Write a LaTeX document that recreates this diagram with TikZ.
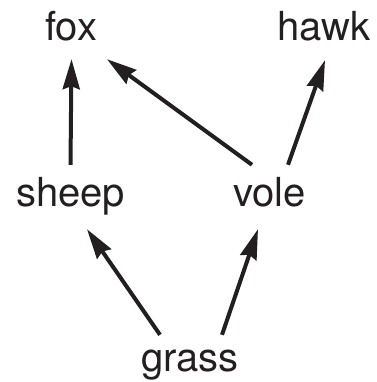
\documentclass[tikz,border=0pt]{standalone}
\usepackage{fontspec}
\setmainfont{TeX Gyre Heros}
\usepackage{tikz}
\usetikzlibrary{arrows.meta}
\definecolor{ink}{HTML}{231F20}

\tikzset{
  animal/.style={anchor=base,inner sep=0pt,text height=29pt,text depth=9pt,
    font=\fontsize{40}{44}\selectfont,text=ink},
  eats/.style={draw=ink,line width=4pt,-{Stealth[length=30pt,width=17pt,inset=3pt]}}
}

\begin{document}
\begin{tikzpicture}[x=1pt,y=1pt]
\useasboundingbox (0,0) rectangle (376,382);
% edit here for the names
\node[animal] (fox) at (71,341) {fox};
\node[animal] (hawk) at (324,341) {hawk};
\node[animal] (sheep) at (70.5,175) {sheep};
\node[animal] (vole) at (269.5,175) {vole};
\node[animal] (grass) at (190,10) {grass};
% edit here for the arrows
\draw[eats] ([yshift=13pt]sheep.north) -- ([xshift=0.5pt,yshift=-9pt]fox.south);
\draw[eats] ([xshift=-17.5pt,yshift=13pt]vole.north) -- ([xshift=36pt,yshift=-9pt]fox.south);
\draw[eats] ([xshift=18.5pt,yshift=13pt]vole.north) -- ([xshift=1pt,yshift=-10pt]hawk.south);
\draw[eats] ([xshift=-30pt,yshift=8pt]grass.north) -- ([xshift=16.5pt,yshift=-13pt]sheep.south);
\draw[eats] ([xshift=32pt,yshift=8pt]grass.north) -- ([xshift=-11.5pt,yshift=-13pt]vole.south);
\end{tikzpicture}
\end{document}
